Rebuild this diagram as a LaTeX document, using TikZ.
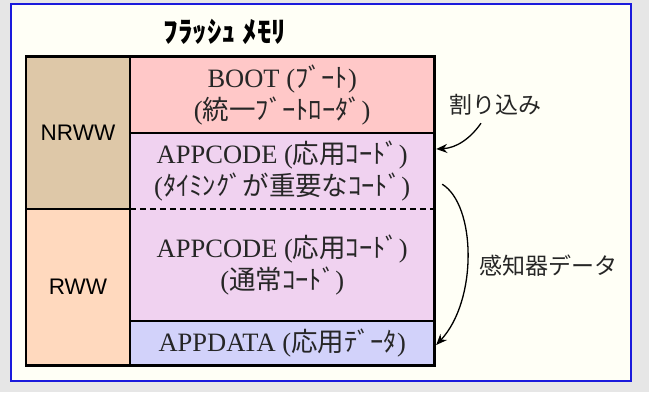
\documentclass[tikz,border=0pt]{standalone}
\usepackage{fontspec}
\setmainfont{Liberation Serif}
\newfontfamily\jp{Noto Sans CJK JP}
\newfontfamily\lsans{Liberation Sans}
\usetikzlibrary{arrows.meta}
\definecolor{bgc}{HTML}{E6E6E6}
\definecolor{panelc}{HTML}{FFFFF6}
\definecolor{bluec}{HTML}{1A1ADC}
\definecolor{nrwwc}{HTML}{DEC8A8}
\definecolor{rwwc}{HTML}{FFD9BE}
\definecolor{bootc}{HTML}{FFC8C8}
\definecolor{appc}{HTML}{F0D2F0}
\definecolor{datac}{HTML}{D2D2FA}
\tikzset{
  cell/.style={draw=none, inner sep=0pt, align=center, text=black!85,
    font=\fontsize{26.5}{32}\selectfont},
  sidecell/.style={draw=none, inner sep=0pt, align=center, text=black,
    font=\lsans\fontsize{22.5}{26}\selectfont},
  divider/.style={line width=1.6pt, black},
  outerbox/.style={line width=2.6pt, black},
  lbl/.style={inner sep=0pt, font=\jp\fontsize{23}{27}\selectfont, text=black!85},
  arr/.style={line width=1.3pt, black, -{Stealth[length=11pt,width=9pt]}},
}
\begin{document}
\begin{tikzpicture}[x=1pt,y=-1pt]
\useasboundingbox (0,0) rectangle (649,392);
\fill[bgc] (0,0) rectangle (649,392);
\draw[line width=2pt, draw=bluec, fill=panelc] (10.5,3.5) rectangle (630.5,381);

\node[inner sep=0pt, font=\jp\bfseries\fontsize{29}{32}\selectfont] (title) at (225,32) {ﾌﾗｯｼｭ ﾒﾓﾘ};

% left column
\node[sidecell, fill=nrwwc, minimum width=104pt, minimum height=152.5pt] (nrww) at (78,132.75) {NRWW};
\node[sidecell, fill=rwwc, minimum width=104pt, minimum height=156pt] (rww) at (78,287) {RWW};
% right column
\node[cell, fill=bootc, minimum width=304.5pt, minimum height=76.5pt] (boot) at (282.25,94.75)
  {BOOT ({\jp ﾌﾞｰﾄ})\\({\jp 統一ﾌﾞｰﾄﾛｰﾀﾞ})};
\node[cell, fill=appc, minimum width=304.5pt, minimum height=76pt] (app1) at (282.25,171)
  {APPCODE ({\jp 応用ｺｰﾄﾞ})\\({\jp ﾀｲﾐﾝｸﾞが重要なｺｰﾄﾞ})};
\node[cell, fill=appc, minimum width=304.5pt, minimum height=112pt] (app2) at (282.25,265)
  {APPCODE ({\jp 応用ｺｰﾄﾞ})\\({\jp 通常ｺｰﾄﾞ})};
\node[cell, fill=datac, minimum width=304.5pt, minimum height=44pt] (appdata) at (282.25,343)
  {APPDATA ({\jp 応用ﾃﾞｰﾀ})};

% dividers
\draw[divider] (boot.south west) -- (boot.south east);
\draw[divider, dash pattern=on 6pt off 4pt] (app1.south west) -- (app1.south east);
\draw[divider] (app2.south west) -- (app2.south east);
\draw[divider] (nrww.south west) -- (nrww.south east);
\draw[divider] (nrww.north east) -- (rww.south east);
\draw[outerbox] (nrww.north west) rectangle (appdata.south east);

% labels and arrows
\node[lbl] (intl) at (495,105) {割り込み};
\node[lbl] (sensl) at (548,266) {感知器データ};
\draw[arr] ([xshift=-14pt,yshift=-7.5pt]intl.south) .. controls (470,139) and (456,148) .. ([xshift=1.5pt,yshift=22pt]app1.east);
\draw[arr] ([xshift=7.5pt,yshift=25pt]app1.south east) .. controls (476,205) and (478,300) .. ([xshift=1.5pt,yshift=-2pt]appdata.east);
\end{tikzpicture}
\end{document}
